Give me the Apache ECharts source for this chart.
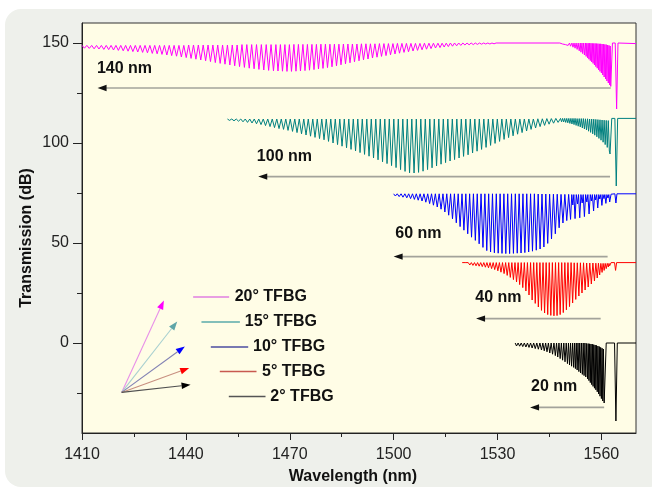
<!DOCTYPE html>
<html><head><meta charset="utf-8">
<script src="https://cdn.jsdelivr.net/npm/echarts@6/dist/echarts.min.js"></script>
<style>
html,body{margin:0;padding:0;background:#fff;}
#wrap{position:relative;width:652px;height:489px;background:#fff;overflow:hidden;}
#panel{position:absolute;left:5px;top:9px;width:660px;height:478px;border-radius:16px;background:#eef0eb;}
#c{position:absolute;left:0;top:0;width:652px;height:489px;}
</style>
</head><body>
<div id="wrap"><div id="panel"></div><div id="c"></div></div>
<script>
// ---- axis ticks / labels ----
const xTicks = [1410, 1440, 1470, 1500, 1530, 1560];
const xMinor = [1425, 1455, 1485, 1515, 1545];
const yTicks = [0, 50, 100, 150];
const yMinor = [-25, 25, 75, 125];
const seriesNames = ['20° TFBG', '15° TFBG', '10° TFBG', '5° TFBG', '2° TFBG'];
const bandLabels = ['140 nm', '100 nm', '60 nm', '40 nm', '20 nm'];
const xTitle = 'Wavelength (nm)';
const yTitle = 'Transmission (dB)';

// ---- spectra: [wavelength nm, transmission dB] vertices ----
const s20 = [[1410.0,148.8],[1410.7,147.4],[1411.4,148.8],[1412.1,147.3],[1412.8,148.8],[1413.5,147.1],[1414.2,148.8],[1414.9,147.0],[1415.6,148.8],[1416.3,146.8],[1417.0,148.8],[1417.7,146.7],[1418.4,148.8],[1419.1,146.5],[1419.8,148.8],[1420.5,146.3],[1421.2,148.8],[1421.9,146.1],[1422.6,148.8],[1423.3,145.9],[1424.0,148.8],[1424.7,145.7],[1425.4,148.8],[1426.1,145.5],[1426.8,148.8],[1427.5,145.3],[1428.2,148.8],[1428.9,145.1],[1429.6,148.8],[1430.3,144.8],[1431.0,148.8],[1431.7,144.6],[1432.4,148.8],[1433.1,144.3],[1433.8,148.8],[1434.5,144.0],[1435.2,148.8],[1435.9,143.7],[1436.6,148.8],[1437.3,143.4],[1438.0,148.8],[1438.7,143.0],[1439.4,148.8],[1440.1,142.7],[1440.8,149.0],[1441.5,142.3],[1442.2,149.0],[1442.9,141.9],[1443.6,149.0],[1444.3,141.5],[1445.0,149.0],[1445.7,141.1],[1446.4,149.0],[1447.1,140.7],[1447.8,149.0],[1448.5,140.2],[1449.2,149.0],[1449.9,139.8],[1450.6,149.0],[1451.3,139.4],[1452.0,149.0],[1452.7,139.0],[1453.4,149.0],[1454.1,138.6],[1454.8,149.0],[1455.5,138.2],[1456.2,149.2],[1456.9,137.8],[1457.6,149.2],[1458.3,137.4],[1459.0,149.2],[1459.7,137.1],[1460.4,149.2],[1461.1,136.8],[1461.8,149.2],[1462.5,136.5],[1463.2,149.2],[1463.9,136.3],[1464.6,149.2],[1465.3,136.1],[1466.0,149.2],[1466.6,136.0],[1467.3,149.2],[1467.9,135.9],[1468.6,149.2],[1469.2,135.8],[1469.9,149.2],[1470.5,135.8],[1471.2,149.3],[1471.8,135.9],[1472.5,149.3],[1473.1,136.0],[1473.8,149.3],[1474.4,136.2],[1475.1,149.3],[1475.7,136.4],[1476.4,149.3],[1477.0,136.7],[1477.7,149.3],[1478.3,137.0],[1479.0,149.4],[1479.6,137.3],[1480.3,149.4],[1480.9,137.7],[1481.6,149.4],[1482.2,138.1],[1482.9,149.4],[1483.5,138.6],[1484.2,149.4],[1484.8,139.1],[1485.5,149.5],[1486.1,139.6],[1486.8,149.5],[1487.4,140.1],[1488.1,149.5],[1488.7,140.6],[1489.4,149.5],[1490.0,141.1],[1490.7,149.6],[1491.3,141.6],[1492.0,149.6],[1492.6,142.0],[1493.3,149.6],[1493.9,142.5],[1494.6,149.6],[1495.2,142.9],[1495.9,149.7],[1496.5,143.3],[1497.2,149.7],[1497.8,143.7],[1498.5,149.7],[1499.1,144.1],[1499.8,149.7],[1500.4,144.5],[1501.1,149.8],[1501.7,144.9],[1502.4,149.8],[1503.0,145.3],[1503.7,149.8],[1504.3,145.6],[1505.0,149.8],[1505.6,146.0],[1506.3,149.8],[1506.9,146.3],[1507.6,149.8],[1508.2,146.6],[1508.9,149.9],[1509.5,146.9],[1510.2,149.9],[1510.8,147.2],[1511.5,149.9],[1512.1,147.5],[1512.8,149.9],[1513.4,147.7],[1514.0,149.9],[1514.6,148.0],[1515.2,149.9],[1515.8,148.2],[1516.4,150],[1517.0,148.4],[1517.6,150],[1518.2,148.6],[1518.8,150],[1519.4,148.8],[1520.0,150],[1520.6,149.0],[1521.2,150],[1521.8,149.1],[1522.4,150],[1523.0,149.2],[1523.6,150],[1524.2,149.3],[1524.8,150],[1525.4,149.4],[1526.0,150],[1526.6,149.5],[1527.2,150],[1527.8,149.5],[1528.4,150],[1529.0,149.6],[1529.6,150],[1548.0,150],[1548.8,149.5],[1549.2,150],[1549.6,149.2],[1550.0,150],[1550.4,148.8],[1550.8,150],[1551.1,148.4],[1551.5,150],[1551.8,147.9],[1552.1,150],[1552.4,147.4],[1552.7,150],[1553.0,146.8],[1553.3,150],[1553.6,146.1],[1553.9,150],[1554.1,145.4],[1554.4,150],[1554.6,144.7],[1554.9,150],[1555.1,144.0],[1555.4,150],[1555.6,143.3],[1555.8,149.9],[1556.0,142.6],[1556.2,149.9],[1556.4,141.9],[1556.6,149.9],[1556.8,141.2],[1557.0,149.9],[1557.2,140.5],[1557.4,149.8],[1557.6,139.8],[1557.8,149.8],[1558.0,139.0],[1558.2,149.8],[1558.4,138.2],[1558.6,149.7],[1558.8,137.4],[1559.0,149.7],[1559.2,136.6],[1559.4,149.6],[1559.6,135.8],[1559.8,149.6],[1560.0,135.0],[1560.2,149.5],[1560.4,134.0],[1560.6,149.4],[1560.8,133.0],[1561.0,149.3],[1561.2,132.0],[1561.4,149.2],[1561.6,131.0],[1561.8,149.0],[1562.0,130.0],[1562.2,148.8],[1562.4,129.0],[1562.55,148.5],[1562.7,128.3],[1563.2,150],[1564.0,150],[1564.4,117],[1564.8,150],[1570,149.7]];

const s15 = [[1452.0,112],[1452.6,111.3],[1453.25,112],[1453.9,111.1],[1454.55,112],[1455.2,110.9],[1455.85,112],[1456.5,110.6],[1457.15,112],[1457.8,110.3],[1458.45,112],[1459.1,110.0],[1459.75,112],[1460.4,109.6],[1461.05,112],[1461.7,109.2],[1462.35,112],[1463.0,108.7],[1463.65,112],[1464.3,108.2],[1464.95,112],[1465.6,107.7],[1466.25,112],[1466.9,107.2],[1467.55,112],[1468.2,106.8],[1468.85,112],[1469.5,106.3],[1470.15,112],[1470.8,105.8],[1471.45,112],[1472.1,105.2],[1472.75,112],[1473.4,104.6],[1474.05,112],[1474.7,104.0],[1475.35,112],[1476.0,103.4],[1476.65,112],[1477.3,102.8],[1477.95,112],[1478.6,102.2],[1479.25,112],[1479.9,101.6],[1480.55,112],[1481.2,100.8],[1481.85,112],[1482.5,100.0],[1483.15,112],[1483.8,99.2],[1484.45,112],[1485.1,98.4],[1485.75,112],[1486.4,97.6],[1487.05,112],[1487.7,96.8],[1488.35,112],[1489.0,96.0],[1489.65,112],[1490.3,95.2],[1490.95,112],[1491.6,94.3],[1492.25,112],[1492.9,93.4],[1493.55,112],[1494.2,92.5],[1494.85,112],[1495.5,91.6],[1496.15,112],[1496.8,90.6],[1497.45,112],[1498.1,89.7],[1498.75,112],[1499.4,88.7],[1500.05,112],[1500.7,87.7],[1501.35,112],[1502.0,86.7],[1502.65,112],[1503.3,85.8],[1503.95,112],[1504.6,85.1],[1505.25,112],[1505.9,85.0],[1506.55,112],[1507.2,85.3],[1507.85,112],[1508.5,85.9],[1509.15,112],[1509.8,86.7],[1510.45,112],[1511.1,87.6],[1511.75,112],[1512.4,88.5],[1513.05,112],[1513.7,89.4],[1514.35,112],[1515.0,90.2],[1515.65,112],[1516.3,91.0],[1516.95,112],[1517.6,91.7],[1518.25,112],[1518.9,92.5],[1519.55,112],[1520.2,93.3],[1520.85,112],[1521.5,94.1],[1522.15,112],[1522.8,95.0],[1523.45,112],[1524.1,95.9],[1524.75,112],[1525.4,96.8],[1526.05,112],[1526.7,97.8],[1527.35,112],[1528.0,98.8],[1528.65,112],[1529.3,99.8],[1529.95,112],[1530.6,100.8],[1531.25,112],[1531.9,101.8],[1532.55,112],[1533.2,102.7],[1533.85,112],[1534.5,103.6],[1535.15,112],[1535.8,104.4],[1536.45,112],[1537.1,105.2],[1537.75,112],[1538.4,106.0],[1539.05,112],[1539.7,106.8],[1540.35,112],[1541.0,107.5],[1541.65,112.1],[1542.3,108.2],[1542.95,112.1],[1543.6,108.8],[1544.25,112.2],[1544.9,109.4],[1545.55,112.2],[1546.2,109.9],[1546.85,112.3],[1547.5,110.3],[1548.2,112.3],[1548.5,110.6],[1548.8,112.3],[1549.1,110.5],[1549.4,112.3],[1549.7,110.3],[1550.0,112.3],[1550.3,110.1],[1550.6,112.3],[1550.9,109.8],[1551.2,112.3],[1551.5,109.5],[1551.8,112.3],[1552.1,109.2],[1552.4,112.3],[1552.7,108.8],[1553.0,112.2],[1553.3,108.4],[1553.6,112.2],[1553.9,108.0],[1554.2,112.2],[1554.5,107.5],[1554.8,112.2],[1555.1,107.0],[1555.4,112.1],[1555.7,106.5],[1556.0,112.1],[1556.3,105.9],[1556.6,112.0],[1556.9,105.3],[1557.2,112.0],[1557.5,104.6],[1557.8,111.9],[1558.1,103.9],[1558.4,111.8],[1558.7,103.1],[1559.0,111.7],[1559.3,102.3],[1559.6,111.6],[1559.9,101.4],[1560.2,111.5],[1560.5,100.4],[1560.8,111.4],[1561.1,99.2],[1561.4,111.3],[1561.7,97.8],[1562.0,111.2],[1562.3,96.0],[1562.5,94.5],[1563.0,112.3],[1563.9,112.3],[1564.3,78.5],[1564.7,112.3],[1570,112.3]];

const s10 = [[1500.0,74.6],[1500.5,73.5],[1501.05,74.6],[1501.6,73.2],[1502.15,74.6],[1502.7,72.9],[1503.25,74.6],[1503.8,72.6],[1504.35,74.6],[1504.9,72.2],[1505.45,74.6],[1506.0,71.8],[1506.55,74.6],[1507.1,71.4],[1507.65,74.6],[1508.2,71.0],[1508.75,74.6],[1509.3,70.4],[1509.85,74.6],[1510.4,69.7],[1510.95,74.6],[1511.5,68.9],[1512.05,74.6],[1512.6,68.0],[1513.15,74.6],[1513.7,66.9],[1514.25,74.6],[1514.8,65.5],[1515.35,74.6],[1515.9,63.9],[1516.45,74.6],[1517.0,62.1],[1517.55,74.6],[1518.1,60.1],[1518.65,74.6],[1519.2,58.2],[1519.75,74.6],[1520.3,56.4],[1520.85,74.6],[1521.4,54.6],[1521.95,74.6],[1522.5,52.9],[1523.05,74.6],[1523.6,51.3],[1524.15,74.6],[1524.7,49.6],[1525.25,74.6],[1525.8,47.8],[1526.35,74.6],[1526.9,46.2],[1527.45,74.6],[1528.0,45.5],[1528.55,74.6],[1529.1,45.1],[1529.65,74.6],[1530.2,44.9],[1530.75,74.6],[1531.3,44.8],[1531.85,74.6],[1532.4,44.7],[1532.95,74.6],[1533.5,44.7],[1534.05,74.6],[1534.6,44.8],[1535.15,74.6],[1535.7,44.9],[1536.25,74.6],[1536.8,45.0],[1537.35,74.6],[1537.9,45.2],[1538.45,74.6],[1539.0,45.5],[1539.55,74.6],[1540.1,45.9],[1540.65,74.6],[1541.2,46.4],[1541.75,74.5],[1542.3,47.0],[1542.85,74.5],[1543.4,48.0],[1543.95,74.5],[1544.5,49.8],[1545.05,74.4],[1545.6,52.0],[1546.15,74.4],[1546.7,54.6],[1547.25,74.4],[1547.8,57.6],[1548.35,74.3],[1548.9,60.0],[1549.45,74.3],[1550.0,61.2],[1550.55,74.3],[1551.1,61.8],[1551.45,74.2],[1551.75,69.0],[1552.05,74.2],[1552.4,62.2],[1552.75,74.2],[1553.1,69.5],[1553.4,74.2],[1553.75,62.6],[1554.1,74.2],[1554.45,70.0],[1554.75,74.2],[1555.1,63.2],[1555.45,74.2],[1555.8,70.5],[1556.1,74.2],[1556.45,64.5],[1556.8,74.2],[1557.1,71.0],[1557.4,74.2],[1557.75,66.0],[1558.05,74.2],[1558.35,71.5],[1558.65,74.2],[1558.95,67.5],[1559.25,74.2],[1559.55,72.0],[1559.85,74.2],[1560.15,68.8],[1560.45,74.2],[1560.75,72.2],[1561.0,74.2],[1561.3,69.8],[1561.6,74.2],[1561.9,72.5],[1562.15,74.2],[1562.4,70.5],[1562.8,74.4],[1563.9,74.6],[1564.2,70.0],[1564.5,74.6],[1570,74.6]];

const s5 = [[1519.8,40.2],[1520.2,39.4],[1520.65,40.2],[1521.1,39.2],[1521.55,40.2],[1522.0,39.0],[1522.45,40.2],[1522.9,38.8],[1523.35,40.2],[1523.8,38.6],[1524.25,40.2],[1524.7,38.4],[1525.15,40.2],[1525.6,38.2],[1526.05,40.2],[1526.5,37.9],[1526.95,40.2],[1527.4,37.6],[1527.85,40.2],[1528.3,37.2],[1528.75,40.2],[1529.2,36.7],[1529.65,40.2],[1530.1,36.1],[1530.55,40.2],[1531.0,35.4],[1531.45,40.2],[1531.9,34.7],[1532.35,40.2],[1532.8,33.8],[1533.25,40.2],[1533.7,32.8],[1534.15,40.2],[1534.6,31.7],[1535.05,40.2],[1535.5,30.5],[1535.95,40.2],[1536.4,29.2],[1536.85,40.2],[1537.3,27.7],[1537.75,40.2],[1538.2,26.0],[1538.65,40.2],[1539.1,24.0],[1539.55,40.2],[1540.0,21.5],[1540.45,40.2],[1540.9,19.8],[1541.35,40.2],[1541.8,18.0],[1542.25,40.2],[1542.7,16.3],[1543.15,40.2],[1543.6,15.0],[1544.05,40.2],[1544.5,14.2],[1544.95,40.2],[1545.4,13.8],[1545.85,40.2],[1546.3,13.6],[1546.75,40.2],[1547.2,13.7],[1547.65,40.2],[1548.1,14.2],[1548.55,40.2],[1549.0,15.2],[1549.45,40.2],[1549.9,16.6],[1550.35,40.2],[1550.8,18.2],[1551.25,40.2],[1551.7,20.0],[1552.15,40.1],[1552.6,21.8],[1553.05,40.1],[1553.5,23.5],[1553.95,40.1],[1554.4,25.0],[1554.85,40.1],[1555.3,26.5],[1555.75,40.0],[1556.2,28.0],[1556.65,40.0],[1557.1,29.5],[1557.55,40.0],[1558.0,31.0],[1558.4,39.9],[1558.8,32.5],[1559.15,39.9],[1559.5,34.0],[1559.85,39.8],[1560.2,35.3],[1560.5,39.8],[1560.8,36.3],[1561.1,39.8],[1561.4,37.2],[1561.7,39.8],[1562.0,38.0],[1562.2,39.8],[1562.4,38.6],[1562.8,40.2],[1563.8,40.2],[1564.1,36.3],[1564.4,40.2],[1570,40.2]];

const s2 = [[1535.1,0],[1535.5,-1.5],[1535.95,0],[1536.4,-1.6],[1536.85,0],[1537.3,-1.8],[1537.75,0],[1538.2,-2.0],[1538.65,0],[1539.1,-2.2],[1539.55,0],[1540.0,-2.5],[1540.45,0],[1540.9,-2.8],[1541.35,0],[1541.8,-3.1],[1542.25,0],[1542.7,-3.5],[1543.1,0],[1543.5,-3.9],[1543.9,0],[1544.3,-4.4],[1544.7,0],[1545.1,-5.0],[1545.5,0],[1545.9,-5.6],[1546.3,0],[1546.7,-6.3],[1547.05,0],[1547.4,-7.0],[1547.75,0],[1548.1,-7.8],[1548.45,0],[1548.8,-8.6],[1549.15,0],[1549.5,-9.4],[1549.85,0],[1550.2,-10.3],[1550.5,0],[1550.8,-11.0],[1551.1,0],[1551.4,-11.6],[1551.7,0],[1552.0,-12.2],[1552.25,0],[1552.5,-12.8],[1552.75,0],[1553.0,-13.5],[1553.25,0],[1553.5,-14.3],[1553.75,0],[1554.0,-15.0],[1554.25,0],[1554.5,-15.7],[1554.75,0],[1555.0,-16.3],[1555.25,0],[1555.5,-17.0],[1555.75,-0.2],[1556.0,-17.9],[1556.2,-0.3],[1556.4,-18.8],[1556.6,-0.4],[1556.8,-19.8],[1557.0,-0.5],[1557.2,-20.8],[1557.4,-0.6],[1557.6,-21.7],[1557.8,-0.8],[1558.0,-22.6],[1558.2,-1.0],[1558.4,-23.4],[1558.6,-1.2],[1558.8,-24.4],[1559.0,-1.5],[1559.2,-25.5],[1559.4,-1.8],[1559.6,-26.6],[1559.8,-2.2],[1560.0,-27.8],[1560.2,-2.6],[1560.4,-29.0],[1560.6,-3.0],[1560.8,-30.0],[1561.4,0],[1563.8,0],[1564.2,-39],[1564.6,0],[1570,0]];

const seriesData = [s20, s15, s10, s5, s2];
const seriesColors = ['#ff00ff', '#008080', '#0000ff', '#ff0000', '#000000'];

// ---- chart ----
const FONT = '"Liberation Sans", Arial, Helvetica, sans-serif';
const chart = echarts.init(document.getElementById('c'), null, {renderer: 'canvas'});

const axisColor = '#222';
chart.setOption({
  animation: false,
  backgroundColor: 'transparent',
  grid: {left: 82, right: 16, top: 23, bottom: 56, show: true,
         backgroundColor: '#fffde6', borderColor: '#333', borderWidth: 1},
  xAxis: [{
    type: 'value', min: 1410, max: 1570, position: 'bottom',
    axisLine: {show: true, onZero: false, lineStyle: {color: axisColor, width: 1}},
    axisTick: {show: true, customValues: xTicks, length: 7, lineStyle: {color: axisColor}},
    axisLabel: {customValues: xTicks, margin: 14, fontSize: 16, color: '#222', fontFamily: FONT,
                formatter: v => String(v)},
    splitLine: {show: false}
  }, {
    type: 'value', min: 1410, max: 1570, position: 'bottom',
    axisLine: {show: false, onZero: false},
    axisTick: {show: true, customValues: xMinor, length: 4, lineStyle: {color: axisColor}},
    axisLabel: {show: false}, splitLine: {show: false}
  }],
  yAxis: [{
    type: 'value', min: -45, max: 160, position: 'left',
    axisLine: {show: true, onZero: false, lineStyle: {color: axisColor, width: 1}},
    axisTick: {show: true, customValues: yTicks, length: 9, lineStyle: {color: axisColor}},
    axisLabel: {customValues: yTicks, margin: 13, fontSize: 16, color: '#222', fontFamily: FONT,
                formatter: v => String(v)},
    splitLine: {show: false}
  }, {
    type: 'value', min: -45, max: 160, position: 'left',
    axisLine: {show: false, onZero: false},
    axisTick: {show: true, customValues: yMinor, length: 5, lineStyle: {color: axisColor}},
    axisLabel: {show: false}, splitLine: {show: false}
  }],
  series: seriesData.map((d, i) => ({
    name: seriesNames[i], type: 'line', data: d, xAxisIndex: 0, yAxisIndex: 0,
    showSymbol: false, symbol: 'none', silent: true,
    lineStyle: {color: seriesColors[i], width: 1}, itemStyle: {color: seriesColors[i]},
    z: 2 + i
  }))
});

// ---- annotations (data coordinates) ----
const bandArrows = [ // right end, left end (tip), y, label x, label y
  [1562.7, 1414.5, 127.5, 1414.3, 137.3],
  [1562.5, 1460.9, 83.2, 1460.5, 93.4],
  [1561.8, 1500.0, 43.2, 1500.5, 54.6],
  [1559.8, 1523.8, 12.2, 1523.6, 22.6],
  [1560.8, 1539.4, -32.2, 1539.7, -21.9]
];
const legendPos = [ // line start, line end, y, text x
  [1442.1, 1452.5, 23.0, 1454.1],
  [1444.5, 1455.6, 10.5, 1457.0],
  [1447.2, 1458.0, -2.0, 1459.4],
  [1449.8, 1460.4, -14.2, 1462.0],
  [1452.4, 1463.0, -26.7, 1464.4]
];
const legendLineColors = ['#e07ee0', '#5aaaaa', '#4c4ca0', '#c85a50', '#555555'];
const fanOrigin = [1421.45, -24.7];
const fanTips = [[1433.65, 21.3], [1437.5, 10.8], [1439.7, -1.7], [1440.95, -12.5], [1441.35, -20.85]];
const fanLine = ['#e890e8', '#a8d0d0', '#8282b4', '#c89080', '#505050'];
const fanHead = ['#ff00ff', '#5fa5a8', '#0000ff', '#ff0000', '#000000'];

const P = (x, y) => chart.convertToPixel({seriesIndex: 0}, [x, y]);
const g = [];
const BOLD = 'bold 16px ' + FONT;

// axis titles
g.push({type: 'text', z: 60, silent: true, x: 353, y: 477,
        style: {text: xTitle, font: BOLD, fill: '#111', align: 'center', verticalAlign: 'middle'}});
g.push({type: 'text', z: 60, silent: true, x: 27, y: 238, rotation: Math.PI / 2,
        style: {text: yTitle, font: BOLD, fill: '#111', align: 'center', verticalAlign: 'middle'}});

bandArrows.forEach((a, i) => {
  const r = P(a[0], a[2]), l = P(a[1], a[2]);
  g.push({type: 'line', z: 50, silent: true, shape: {x1: l[0] + 6, y1: l[1], x2: r[0], y2: r[1]},
          style: {stroke: '#a3a39b', lineWidth: 1.6}});
  g.push({type: 'polygon', z: 51, silent: true,
          shape: {points: [[l[0], l[1]], [l[0] + 9, l[1] - 3.2], [l[0] + 9, l[1] + 3.2]]},
          style: {fill: '#111'}});
  const t = P(a[3], a[4]);
  g.push({type: 'text', z: 52, silent: true, x: t[0], y: t[1],
          style: {text: bandLabels[i], font: BOLD, fill: '#111', align: 'left', verticalAlign: 'middle'}});
});

legendPos.forEach((p, i) => {
  const a = P(p[0], p[2]), b = P(p[1], p[2]), t = P(p[3], p[2]);
  g.push({type: 'line', z: 50, silent: true, shape: {x1: a[0], y1: a[1], x2: b[0], y2: b[1]},
          style: {stroke: legendLineColors[i], lineWidth: 1.5}});
  g.push({type: 'text', z: 52, silent: true, x: t[0], y: t[1],
          style: {text: seriesNames[i], font: BOLD, fill: '#111', align: 'left', verticalAlign: 'middle'}});
});

const o = P(fanOrigin[0], fanOrigin[1]);
fanTips.forEach((tp, i) => {
  const t = P(tp[0], tp[1]);
  const dx = t[0] - o[0], dy = t[1] - o[1], len = Math.hypot(dx, dy);
  const ux = dx / len, uy = dy / len, nx = -uy, ny = ux;
  const L = 9, W = 3.3;
  const bx = t[0] - ux * L, by = t[1] - uy * L;
  g.push({type: 'line', z: 50, silent: true, shape: {x1: o[0], y1: o[1], x2: bx, y2: by},
          style: {stroke: fanLine[i], lineWidth: 1.1}});
  g.push({type: 'polygon', z: 51, silent: true,
          shape: {points: [[t[0], t[1]], [bx + nx * W, by + ny * W], [bx - nx * W, by - ny * W]]},
          style: {fill: fanHead[i]}});
});

chart.setOption({graphic: g});
</script>
</body></html>
